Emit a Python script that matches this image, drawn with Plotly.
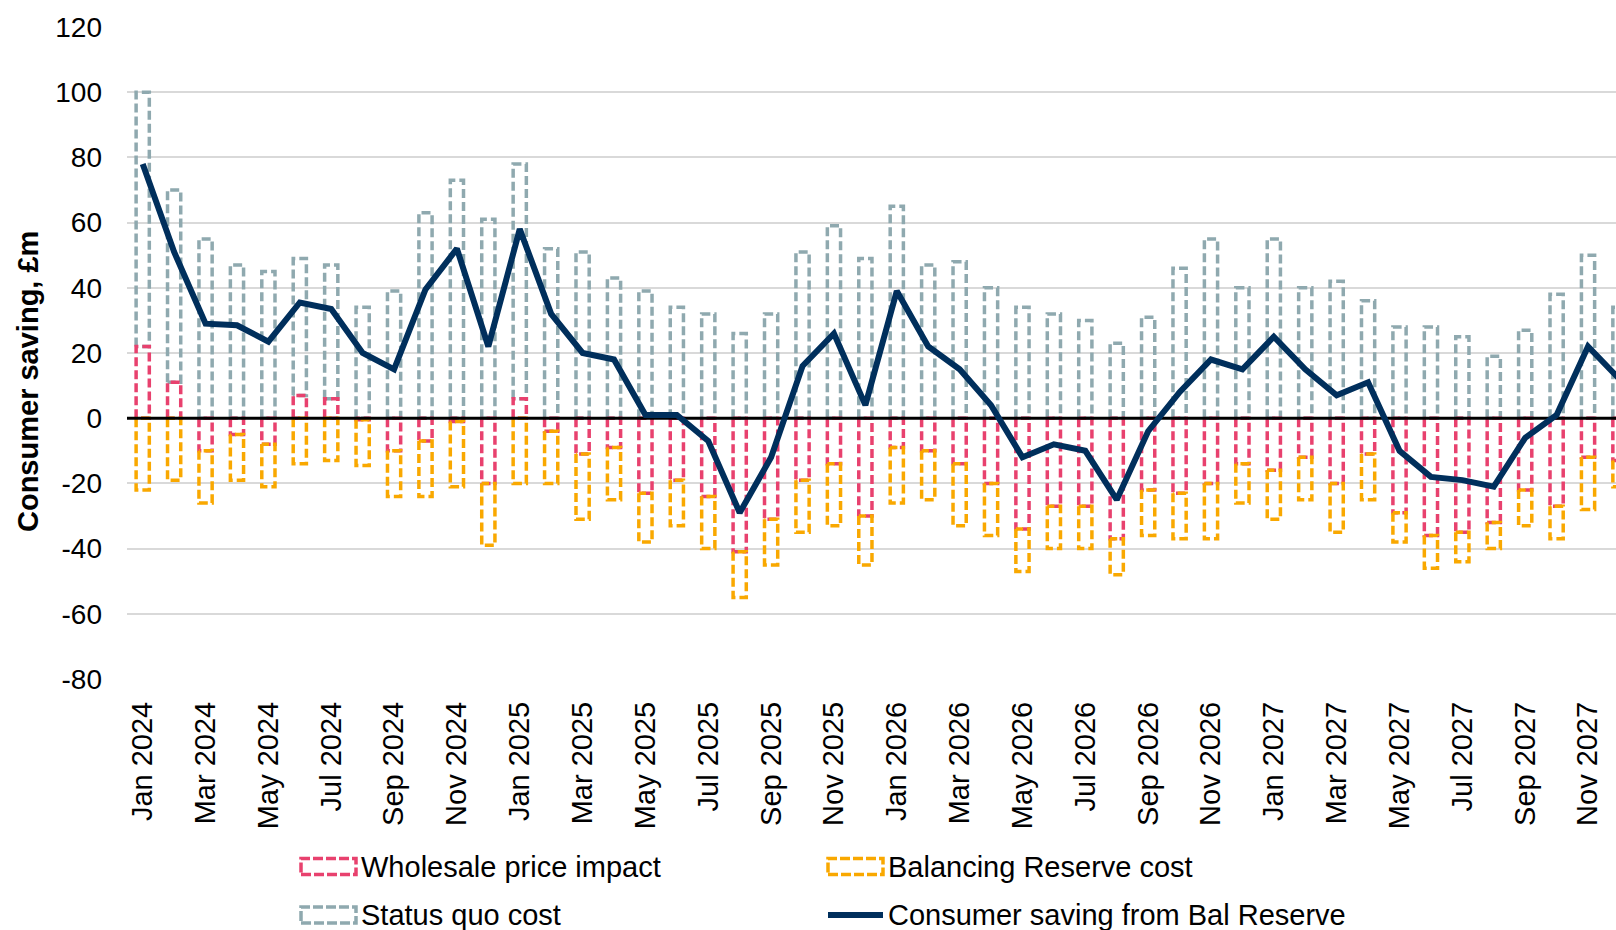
import plotly.graph_objects as go

months = [
    "Jan 2024", "Feb 2024", "Mar 2024", "Apr 2024", "May 2024", "Jun 2024",
    "Jul 2024", "Aug 2024", "Sep 2024", "Oct 2024", "Nov 2024", "Dec 2024",
    "Jan 2025", "Feb 2025", "Mar 2025", "Apr 2025", "May 2025", "Jun 2025",
    "Jul 2025", "Aug 2025", "Sep 2025", "Oct 2025", "Nov 2025", "Dec 2025",
    "Jan 2026", "Feb 2026", "Mar 2026", "Apr 2026", "May 2026", "Jun 2026",
    "Jul 2026", "Aug 2026", "Sep 2026", "Oct 2026", "Nov 2026", "Dec 2026",
    "Jan 2027", "Feb 2027", "Mar 2027", "Apr 2027", "May 2027", "Jun 2027",
    "Jul 2027", "Aug 2027", "Sep 2027", "Oct 2027", "Nov 2027", "Dec 2027",
]

wholesale = [22, 11, -10, -5, -8, 7, 6, -0.5, -10, -7, -1, -20,
             6, -4, -11, -9, -23, -19, -24, -41, -31, -19, -14, -30,
             -9, -10, -14, -20, -34, -27, -27, -37, -22, -23, -20, -14,
             -16, -12, -20, -11, -29, -36, -35, -32, -22, -27, -12, -13]

balancing = [-22, -19, -16, -14, -13, -14, -13, -14, -14, -17, -20, -19,
             -20, -16, -20, -16, -15, -14, -16, -14, -14, -16, -19, -15,
             -17, -15, -19, -16, -13, -13, -13, -11, -14, -14, -17, -12,
             -15, -13, -15, -14, -9, -10, -9, -8, -11, -10, -16, -8]

status_quo = [78, 59, 55, 47, 45, 42, 41, 34, 39, 63, 73, 61,
              72, 52, 51, 43, 39, 34, 32, 26, 32, 51, 59, 49,
              65, 47, 48, 40, 34, 32, 30, 23, 31, 46, 55, 40,
              55, 40, 42, 36, 28, 28, 25, 19, 27, 38, 50, 34]

saving = [78, 51, 29, 28.5, 23.5, 35.5, 33.5, 20, 15, 39.5, 52, 22,
          58, 32, 20, 18, 1, 1, -7, -29, -12, 16, 26, 4,
          39, 22, 15, 4, -12, -8, -10, -25, -4, 8, 18, 15,
          25, 15, 7, 11, -10, -18, -19, -21, -6, 1, 22, 12]

y_ticks = [-80, -60, -40, -20, 0, 20, 40, 60, 80, 100, 120]
y_tick_labels = ["-80", "-60", "-40", "-20", "0", "20", "40", "60", "80", "100", "120"]

series_names = ["Wholesale price impact", "Balancing Reserve cost",
                "Status quo cost", "Consumer saving from Bal Reserve"]

PINK = "#E8416E"
ORANGE = "#F9A800"
GREY = "#8FA9AF"
NAVY = "#002F5C"
FONT = "Liberation Sans, Arial, sans-serif"
DASH = "9px,4px"
BAR_W = 0.42

n = len(months)
idx = list(range(n))


def rect_path(bases, tops, w=BAR_W):
    xs, ys = [], []
    for i, b, t in zip(idx, bases, tops):
        xs += [i - w / 2, i - w / 2, i + w / 2, i + w / 2, i - w / 2, None]
        ys += [b, t, t, b, b, None]
    return xs, ys


# relative stacking: positives stack upward, negatives downward
w_base = [0] * n
w_top = wholesale
pos_base = [max(v, 0) for v in wholesale]
neg_base = [min(v, 0) for v in wholesale]
sq_top = [pb + s for pb, s in zip(pos_base, status_quo)]
bal_top = [nb + b for nb, b in zip(neg_base, balancing)]

fig = go.Figure()

x, y = rect_path(pos_base, sq_top)
fig.add_trace(go.Scatter(x=x, y=y, mode="lines", name=series_names[2],
                         line=dict(color=GREY, width=3.5, dash=DASH),
                         showlegend=False, hoverinfo="skip"))
x, y = rect_path(w_base, w_top)
fig.add_trace(go.Scatter(x=x, y=y, mode="lines", name=series_names[0],
                         line=dict(color=PINK, width=3.5, dash=DASH),
                         showlegend=False, hoverinfo="skip"))
x, y = rect_path(neg_base, bal_top)
fig.add_trace(go.Scatter(x=x, y=y, mode="lines", name=series_names[1],
                         line=dict(color=ORANGE, width=3.5, dash=DASH),
                         showlegend=False, hoverinfo="skip"))
# zero line
fig.add_trace(go.Scatter(x=[-0.5, n - 0.5], y=[0, 0], mode="lines",
                         line=dict(color="black", width=3),
                         showlegend=False, hoverinfo="skip"))
fig.add_trace(go.Scatter(x=idx, y=saving, mode="lines", name=series_names[3],
                         line=dict(color=NAVY, width=6),
                         showlegend=False))

# layout geometry
W, H = 1616, 930
ML, MR, MT, MB = 127, 0, 27, 251
PW = W - ML - MR
PH = H - MT - MB
CAT_PX = 31.42


def px2x(px):
    return (px - ML) / PW


def py2y(py):
    return (H - MB - py) / PH


shapes = []
annotations = []
legend_items = [
    (series_names[0], PINK, 301, 356, 866.5, "rect"),
    (series_names[1], ORANGE, 828, 883, 866.5, "rect"),
    (series_names[2], GREY, 301, 356, 915, "rect"),
    (series_names[3], NAVY, 828, 883, 915, "line"),
]
for name, col, x0, x1, yc, kind in legend_items:
    if kind == "rect":
        shapes.append(dict(type="rect", xref="paper", yref="paper",
                           x0=px2x(x0), x1=px2x(x1),
                           y0=py2y(yc + 8), y1=py2y(yc - 8),
                           line=dict(color=col, width=3.5, dash="10px,3px"),
                           fillcolor="rgba(0,0,0,0)"))
    else:
        shapes.append(dict(type="line", xref="paper", yref="paper",
                           x0=px2x(x0), x1=px2x(x1),
                           y0=py2y(yc), y1=py2y(yc),
                           line=dict(color=col, width=6)))
    annotations.append(dict(text=name, xref="paper", yref="paper",
                            x=px2x(x1 + 3), y=py2y(yc), xanchor="left",
                            yanchor="middle", showarrow=False,
                            font=dict(family=FONT, size=29, color="black")))

annotations.append(dict(text="<b>Consumer saving, £m</b>", xref="paper",
                        yref="paper", x=px2x(28), y=py2y(381),
                        xanchor="center", yanchor="middle", textangle=-90,
                        showarrow=False,
                        font=dict(family=FONT, size=29, color="black")))

fig.update_layout(
    width=W, height=H,
    margin=dict(l=ML, r=MR, t=MT, b=MB, pad=0),
    paper_bgcolor="white", plot_bgcolor="white",
    showlegend=False,
    shapes=shapes, annotations=annotations,
    font=dict(family=FONT, size=28, color="black"),
)
fig.update_xaxes(
    range=[-0.5, -0.5 + PW / CAT_PX],
    tickvals=idx[::2], ticktext=months[::2],
    tickangle=-90, showgrid=False, zeroline=False, showline=False,
    ticks="", ticklabelstandoff=16,
    tickfont=dict(family=FONT, size=29, color="black"),
)
fig.update_yaxes(
    range=[-80, 120], tickvals=y_ticks, ticktext=y_tick_labels,
    showgrid=True, gridcolor="#D9D9D9", gridwidth=2,
    zeroline=False, showline=False, ticks="", ticklabelstandoff=24,
    tickfont=dict(family=FONT, size=28, color="black"),
)

fig.write_html("out.html",
               config={"displayModeBar": False},
               post_script="document.body.style.margin='0px';"
                           "document.body.style.overflow='hidden';")
